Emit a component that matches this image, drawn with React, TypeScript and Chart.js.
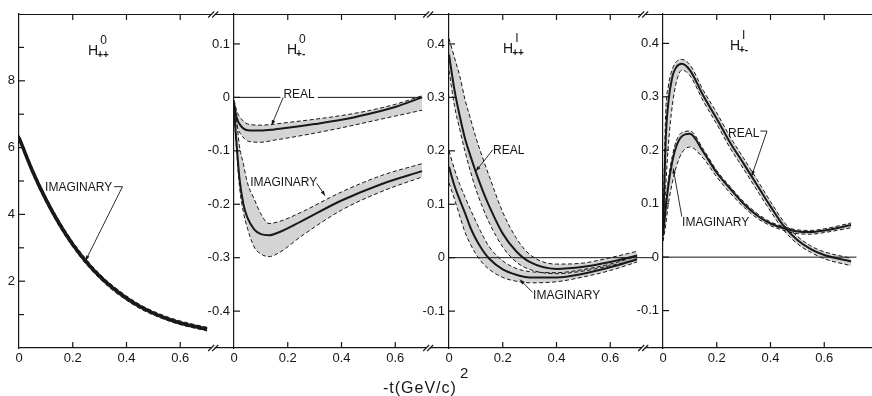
import React, { useEffect, useRef } from 'react';
import { Chart, registerables } from 'chart.js';

Chart.register(...registerables);

const FONT = "'Liberation Sans', Arial, Helvetica, sans-serif";
const INK = '#161616';
const STIPPLE = 'rgba(40,40,40,0.2)';

const X_TICKS = [0, 0.2, 0.4, 0.6];

// ---------- Panel 1 : H0++ ----------
const P1_T = [0, 0.05, 0.1, 0.15, 0.2, 0.25, 0.3, 0.35, 0.4, 0.45, 0.5, 0.55, 0.6, 0.65, 0.7];
const P1_IMAG = [6.3, 5.3, 4.45, 3.72, 3.1, 2.58, 2.15, 1.79, 1.49, 1.24, 1.04, 0.88, 0.75, 0.65, 0.56];
const P1_IMAG_HI = [6.37, 5.38, 4.53, 3.8, 3.18, 2.66, 2.22, 1.86, 1.56, 1.3, 1.1, 0.94, 0.81, 0.71, 0.62];
const P1_IMAG_LO = [6.22, 5.22, 4.37, 3.64, 3.03, 2.51, 2.08, 1.72, 1.43, 1.18, 0.99, 0.83, 0.7, 0.6, 0.51];
const P1_Y_TICKS = [2, 4, 6, 8];
const P1_Y_MINOR = [1, 3, 5, 7, 9];

// ---------- Panel 2 : H0+- ----------
const P2_T_REAL = [0, 0.01, 0.03, 0.06, 0.1, 0.15, 0.2, 0.3, 0.4, 0.5, 0.6, 0.7];
const P2_REAL_HI = [-0.005, -0.025, -0.042, -0.051, -0.052, -0.05, -0.047, -0.041, -0.034, -0.025, -0.013, 0.003];
const P2_REAL = [-0.01, -0.038, -0.056, -0.062, -0.062, -0.06, -0.057, -0.05, -0.042, -0.031, -0.018, 0.0];
const P2_REAL_LO = [-0.015, -0.05, -0.072, -0.083, -0.084, -0.08, -0.076, -0.067, -0.057, -0.046, -0.035, -0.024];
const P2_T_IMAG = [0, 0.01, 0.02, 0.035, 0.05, 0.075, 0.1, 0.13, 0.17, 0.25, 0.4, 0.55, 0.7];
const P2_IMAG_HI = [-0.015, -0.045, -0.09, -0.125, -0.16, -0.19, -0.218, -0.236, -0.232, -0.215, -0.177, -0.146, -0.124];
const P2_IMAG = [-0.02, -0.09, -0.15, -0.2, -0.225, -0.247, -0.256, -0.258, -0.252, -0.232, -0.193, -0.162, -0.138];
const P2_IMAG_LO = [-0.025, -0.1, -0.165, -0.215, -0.245, -0.28, -0.293, -0.298, -0.29, -0.26, -0.211, -0.176, -0.149];
const P2_Y_TICKS = [0.1, 0, -0.1, -0.2, -0.3, -0.4];

// ---------- Panel 3 : H1++ ----------
const P3_T = [0, 0.02, 0.04, 0.06, 0.08, 0.1, 0.125, 0.15, 0.2, 0.25, 0.3, 0.4, 0.5, 0.6, 0.7];
const P3_REAL_HI = [0.41, 0.375, 0.34, 0.295, 0.26, 0.225, 0.187, 0.152, 0.085, 0.037, 0.006, -0.012, -0.01, 0.0, 0.012];
const P3_REAL = [0.38, 0.315, 0.265, 0.222, 0.19, 0.16, 0.126, 0.096, 0.045, 0.012, -0.008, -0.021, -0.017, -0.008, 0.004];
const P3_REAL_LO = [0.35, 0.285, 0.24, 0.198, 0.161, 0.128, 0.094, 0.065, 0.02, -0.008, -0.022, -0.03, -0.025, -0.015, -0.004];
const P3_IMAG_HI = [0.2, 0.166, 0.137, 0.113, 0.09, 0.068, 0.042, 0.02, -0.006, -0.02, -0.026, -0.028, -0.022, -0.012, 0.003];
const P3_IMAG = [0.17, 0.135, 0.108, 0.083, 0.056, 0.035, 0.014, -0.002, -0.022, -0.032, -0.037, -0.037, -0.03, -0.018, -0.003];
const P3_IMAG_LO = [0.14, 0.11, 0.078, 0.047, 0.025, 0.007, -0.01, -0.022, -0.037, -0.044, -0.047, -0.045, -0.036, -0.024, -0.008];
const P34_Y_TICKS = [0.4, 0.3, 0.2, 0.1, 0, -0.1];

// ---------- Panel 4 : H1+- ----------
const P4_T = [0, 0.01, 0.02, 0.035, 0.05, 0.07, 0.1, 0.15, 0.2, 0.25, 0.3, 0.35, 0.4, 0.45, 0.5, 0.55, 0.6, 0.7];
const P4_REAL_HI = [0.05, 0.27, 0.32, 0.352, 0.366, 0.37, 0.36, 0.312, 0.27, 0.225, 0.185, 0.145, 0.104, 0.066, 0.039, 0.021, 0.01, -0.002];
const P4_REAL = [0.04, 0.22, 0.29, 0.338, 0.356, 0.362, 0.35, 0.302, 0.259, 0.214, 0.175, 0.135, 0.095, 0.058, 0.032, 0.015, 0.004, -0.008];
const P4_REAL_LO = [0.03, 0.13, 0.21, 0.285, 0.328, 0.35, 0.34, 0.292, 0.249, 0.204, 0.165, 0.125, 0.086, 0.05, 0.025, 0.009, -0.003, -0.016];
const P4_IMAG_HI = [0.05, 0.1, 0.145, 0.19, 0.218, 0.233, 0.236, 0.202, 0.162, 0.132, 0.104, 0.082, 0.066, 0.057, 0.051, 0.05, 0.053, 0.064];
const P4_IMAG = [0.04, 0.09, 0.135, 0.18, 0.208, 0.226, 0.231, 0.197, 0.158, 0.128, 0.1, 0.078, 0.063, 0.054, 0.048, 0.047, 0.05, 0.06];
const P4_IMAG_LO = [0.03, 0.06, 0.1, 0.14, 0.17, 0.195, 0.206, 0.185, 0.15, 0.12, 0.094, 0.073, 0.059, 0.05, 0.044, 0.043, 0.046, 0.055];

type XY = [number, number];
interface Band { t: number[]; hi: number[]; mid: number[]; lo: number[]; width?: number }
interface Note { text: string; at: XY; path: XY[]; bg?: boolean }
interface Spec {
  left: number; width: number; yw: number; xMax: number;
  yMin: number; yMax: number; yTicks: number[]; yMinor?: number[]; dec: number;
  bands: Band[]; zeroEnd?: number; breakAt?: number;
  title: { sup: string; sub: string; at: XY };
  notes: Note[];
}

const SPECS: Spec[] = [
  {
    left: 0, width: 234, yw: 19, xMax: 0.8, yMin: 0, yMax: 10,
    yTicks: P1_Y_TICKS, yMinor: P1_Y_MINOR, dec: 0, breakAt: 0.73,
    bands: [{ t: P1_T, hi: P1_IMAG_HI, mid: P1_IMAG, lo: P1_IMAG_LO, width: 3.5 }],
    title: { sup: '0', sub: '++', at: [0.257, 8.77] },
    notes: [{ text: 'IMAGINARY', at: [0.097, 4.7], path: [[0.354, 4.83], [0.385, 4.83], [0.248, 2.62]] }],
  },
  {
    left: 200, width: 249, yw: 34, xMax: 0.8, yMin: -0.469, yMax: 0.156,
    yTicks: P2_Y_TICKS, dec: 1, breakAt: 0.73, zeroEnd: 0.7,
    bands: [
      { t: P2_T_REAL, hi: P2_REAL_HI, mid: P2_REAL, lo: P2_REAL_LO },
      { t: P2_T_IMAG, hi: P2_IMAG_HI, mid: P2_IMAG, lo: P2_IMAG_LO },
    ],
    title: { sup: '0', sub: '+-', at: [0.197, 0.082] },
    notes: [
      { text: 'REAL', at: [0.184, -0.002], bg: true, path: [[0.183, 0.0], [0.14, -0.052]] },
      { text: 'IMAGINARY', at: [0.06, -0.166], path: [[0.308, -0.161], [0.339, -0.184]] },
    ],
  },
  {
    left: 415, width: 249, yw: 34, xMax: 0.8, yMin: -0.169, yMax: 0.456,
    yTicks: P34_Y_TICKS, dec: 1, breakAt: 0.73, zeroEnd: 0.76,
    bands: [
      { t: P3_T, hi: P3_REAL_HI, mid: P3_REAL, lo: P3_REAL_LO },
      { t: P3_T, hi: P3_IMAG_HI, mid: P3_IMAG, lo: P3_IMAG_LO },
    ],
    title: { sup: 'I', sub: '++', at: [0.201, 0.383] },
    notes: [
      { text: 'REAL', at: [0.164, 0.194], path: [[0.163, 0.202], [0.1, 0.162]] },
      { text: 'IMAGINARY', at: [0.313, -0.077], path: [[0.311, -0.065], [0.264, -0.041]] },
    ],
  },
  {
    left: 629, width: 243, yw: 34, xMax: 0.7777, yMin: -0.17, yMax: 0.455,
    yTicks: P34_Y_TICKS, dec: 1, zeroEnd: 0.72,
    bands: [
      { t: P4_T, hi: P4_REAL_HI, mid: P4_REAL, lo: P4_REAL_LO },
      { t: P4_T, hi: P4_IMAG_HI, mid: P4_IMAG, lo: P4_IMAG_LO },
    ],
    title: { sup: 'I', sub: '+-', at: [0.249, 0.387] },
    notes: [
      { text: 'REAL', at: [0.242, 0.224], path: [[0.362, 0.236], [0.387, 0.236], [0.33, 0.152]] },
      { text: 'IMAGINARY', at: [0.071, 0.058], path: [[0.07, 0.076], [0.038, 0.166]] },
    ],
  },
];

function fmt(v: number, dec: number) {
  if (Math.abs(v) < 1e-9) return '0';
  return v.toFixed(dec);
}

function buildDatasets(spec: Spec) {
  const sets: any[] = [];
  const pts = (t: number[], y: number[]) => t.map((x, i) => ({ x, y: y[i] }));
  const common = { pointRadius: 0, pointHoverRadius: 0, cubicInterpolationMode: 'monotone' };
  if (spec.zeroEnd) {
    sets.push({ ...common, data: [{ x: 0, y: 0 }, { x: spec.zeroEnd, y: 0 }], borderColor: INK, borderWidth: 1, fill: false });
  }
  for (const b of spec.bands) {
    sets.push({ ...common, data: pts(b.t, b.hi), borderColor: INK, borderWidth: 1, borderDash: [4, 2.5], fill: '+1', backgroundColor: STIPPLE });
    sets.push({ ...common, data: pts(b.t, b.lo), borderColor: INK, borderWidth: 1, borderDash: [4, 2.5], fill: false });
    sets.push({ ...common, data: pts(b.t, b.mid), borderColor: INK, borderWidth: b.width ?? 2, fill: false });
  }
  return sets;
}

function decorPlugin(spec: Spec) {
  return {
    id: 'decor',
    afterDraw(chart: any) {
      const ctx = chart.ctx as CanvasRenderingContext2D;
      const a = chart.chartArea;
      const xs = chart.scales.x;
      const ys = chart.scales.y;
      const px = (t: number) => xs.getPixelForValue(t);
      const py = (v: number) => ys.getPixelForValue(v);
      const seg = (x1: number, y1: number, x2: number, y2: number) => {
        ctx.beginPath(); ctx.moveTo(x1, y1); ctx.lineTo(x2, y2); ctx.stroke();
      };
      ctx.save();
      ctx.strokeStyle = INK; ctx.fillStyle = INK; ctx.lineWidth = 1.2;
      seg(a.left, a.top + 0.5, a.right, a.top + 0.5);
      for (const t of X_TICKS) {
        if (t === 0) continue;
        const x = px(t);
        seg(x, a.bottom, x, a.bottom - 6);
        seg(x, a.top, x, a.top + 6);
      }
      for (const v of spec.yTicks) { const y = py(v); seg(a.left, y, a.left + 6, y); }
      for (const v of spec.yMinor ?? []) { const y = py(v); seg(a.left, y, a.left + 5, y); }
      if (spec.breakAt != null) {
        const x = px(spec.breakAt);
        for (const y of [a.top + 0.5, a.bottom]) {
          ctx.save(); ctx.fillStyle = '#fff'; ctx.fillRect(x - 3.5, y - 1.5, 3, 3); ctx.restore();
          ctx.lineWidth = 1.1;
          seg(x - 7, y + 3, x - 1, y - 3);
          seg(x - 3, y + 3, x + 3, y - 3);
        }
      }
      ctx.font = `12px ${FONT}`; ctx.textAlign = 'left'; ctx.textBaseline = 'alphabetic';
      for (const n of spec.notes) {
        const x = px(n.at[0]); const y = py(n.at[1]);
        const w = ctx.measureText(n.text).width;
        if (n.bg) { ctx.save(); ctx.fillStyle = '#fff'; ctx.fillRect(x - 3, y - 10, w + 6, 12); ctx.restore(); }
        ctx.fillText(n.text, x, y);
        ctx.lineWidth = 0.9;
        ctx.beginPath();
        n.path.forEach(([t, v], i) => { if (i === 0) ctx.moveTo(px(t), py(v)); else ctx.lineTo(px(t), py(v)); });
        ctx.stroke();
        const [t1, v1] = n.path[n.path.length - 2];
        const [t2, v2] = n.path[n.path.length - 1];
        const x1 = px(t1), y1 = py(v1), x2 = px(t2), y2 = py(v2);
        const ang = Math.atan2(y2 - y1, x2 - x1);
        ctx.beginPath();
        ctx.moveTo(x2, y2);
        ctx.lineTo(x2 - 5 * Math.cos(ang) + 1.8 * Math.sin(ang), y2 - 5 * Math.sin(ang) - 1.8 * Math.cos(ang));
        ctx.lineTo(x2 - 5 * Math.cos(ang) - 1.8 * Math.sin(ang), y2 - 5 * Math.sin(ang) + 1.8 * Math.cos(ang));
        ctx.closePath(); ctx.fill();
      }
      const tx = px(spec.title.at[0]); const ty = py(spec.title.at[1]);
      ctx.font = `14px ${FONT}`;
      ctx.fillText('H', tx, ty);
      const hw = ctx.measureText('H').width;
      ctx.font = `12px ${FONT}`;
      ctx.fillText(spec.title.sup, tx + hw + 2, ty - 11);
      ctx.font = `bold 10px ${FONT}`;
      ctx.fillText(spec.title.sub, tx + hw - 1, ty + 3);
      ctx.restore();
    },
  };
}

function Panel({ spec }: { spec: Spec }) {
  const ref = useRef<HTMLCanvasElement>(null);
  useEffect(() => {
    const canvas = ref.current;
    if (!canvas) return;
    const tickFont = { family: FONT, size: 13 };
    const chart = new Chart(canvas, {
      type: 'line',
      data: { datasets: buildDatasets(spec) },
      options: {
        animation: false,
        responsive: false,
        maintainAspectRatio: false,
        devicePixelRatio: 1,
        events: [],
        layout: { padding: { top: 14, left: 0, right: 0, bottom: 0 } },
        plugins: { legend: { display: false }, tooltip: { enabled: false } },
        scales: {
          x: {
            type: 'linear', min: 0, max: spec.xMax,
            grid: { display: false, drawTicks: false },
            border: { display: true, color: INK, width: 1.2 },
            ticks: { color: INK, font: tickFont, padding: 3, autoSkip: false, maxRotation: 0, callback: (v: any) => fmt(Number(v), 1) },
            afterBuildTicks: (s: any) => { s.ticks = X_TICKS.map((value) => ({ value })); },
            afterFit: (s: any) => { s.height = 48; },
          },
          y: {
            type: 'linear', min: spec.yMin, max: spec.yMax,
            grid: { display: false, drawTicks: false },
            border: { display: true, color: INK, width: 1.2 },
            ticks: { color: INK, font: tickFont, padding: 4, autoSkip: false, callback: (v: any) => fmt(Number(v), spec.dec) },
            afterBuildTicks: (s: any) => { s.ticks = spec.yTicks.map((value) => ({ value })); },
            afterFit: (s: any) => { s.width = spec.yw; },
          },
        },
      },
      plugins: [decorPlugin(spec)],
    } as any);
    return () => chart.destroy();
  }, [spec]);
  return (
    <canvas
      ref={ref}
      width={spec.width}
      height={396}
      style={{ position: 'absolute', left: spec.left, top: 0, width: spec.width, height: 396 }}
    />
  );
}

export default function App() {
  return (
    <div style={{ position: 'fixed', left: 0, top: 0, width: 872, height: 396, background: '#fff', overflow: 'hidden' }}>
      {SPECS.map((s, i) => <Panel key={i} spec={s} />)}
      <div
        style={{
          position: 'absolute', left: 383, top: 380, font: `16px ${FONT}`, lineHeight: '16px',
          color: INK, whiteSpace: 'nowrap', letterSpacing: '1px',
        }}
      >
        -t(GeV/c)<span style={{ position: 'relative', top: -15, fontSize: 15, marginLeft: 3 }}>2</span>
      </div>
    </div>
  );
}
